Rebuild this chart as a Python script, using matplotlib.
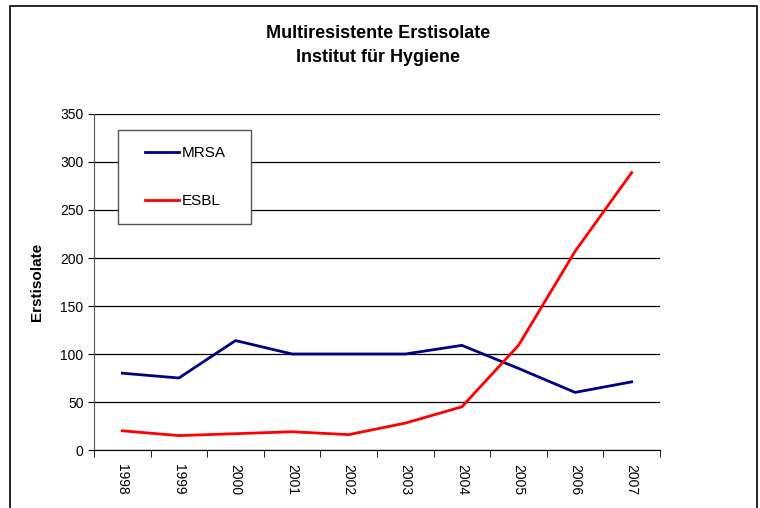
import matplotlib.pyplot as plt
from matplotlib.patches import Rectangle

plt.rcParams['font.family'] = ['Liberation Sans', 'DejaVu Sans']

# Erstisolate je Jahr
jahre = ['1998', '1999', '2000', '2001', '2002', '2003', '2004', '2005', '2006', '2007']
mrsa = [80, 75, 114, 100, 100, 100, 109, 85, 60, 71]
esbl = [20, 15, 17, 19, 16, 28, 45, 109, 207, 289]

fig = plt.figure(figsize=(7.6, 5.08), dpi=100)
W, H = 760, 508

# Rahmen um das Diagramm
fig.patches.append(Rectangle((10 / W, -0.1), 747 / W, 1.1 - 6 / H, transform=fig.transFigure,
                             fill=False, edgecolor='black', linewidth=1.2))

ax = fig.add_axes([94 / W, 1 - 450 / H, 566 / W, 336 / H])
x = range(len(jahre))
ax.plot(x, mrsa, color='#000080', linewidth=2, label='MRSA')
ax.plot(x, esbl, color='#ff0000', linewidth=2, label='ESBL')

ax.set_xlim(-0.5, len(jahre) - 0.5)
ax.set_ylim(0, 350)
ax.set_yticks(range(0, 351, 50))
ax.yaxis.grid(True, color='black', linewidth=0.9)
ax.set_axisbelow(True)
ax.set_xticks(x)
ax.set_xticklabels(jahre, rotation=-90, fontsize=10)
ax.tick_params(axis='x', length=0, pad=10)
ax.tick_params(axis='y', labelsize=10, length=4, direction='out')
# Teilstriche zwischen den Kategorien
ax.set_xticks([i - 0.5 for i in range(len(jahre) + 1)], minor=True)
ax.tick_params(axis='x', which='minor', length=5, direction='out')

for s in ['top', 'right']:
    ax.spines[s].set_visible(False)
ax.spines['left'].set_color('#555555')
ax.spines['bottom'].set_color('black')

ax.set_ylabel('Erstisolate', fontsize=11, fontweight='bold', labelpad=12)

# Legendenkasten
ax.add_patch(Rectangle((118 / W, 1 - 224 / H), 133 / W, 94 / H, transform=fig.transFigure,
                       facecolor='white', edgecolor='#555555', linewidth=1, zorder=4,
                       clip_on=False))
leg = ax.legend(loc='upper left', bbox_to_anchor=(145 / W, 1 - 146 / H),
                bbox_transform=fig.transFigure, frameon=False, fontsize=11,
                handlelength=2.2, handletextpad=0.2, labelspacing=2.25,
                borderpad=0, borderaxespad=0)
leg.set_zorder(6)

fig.text(378 / W, 1 - 33 / H, 'Multiresistente Erstisolate', ha='center', va='center',
         fontsize=13, fontweight='bold')
fig.text(378 / W, 1 - 58 / H, 'Institut für Hygiene', ha='center', va='center',
         fontsize=13, fontweight='bold')

fig.savefig('out.png', dpi=100)
